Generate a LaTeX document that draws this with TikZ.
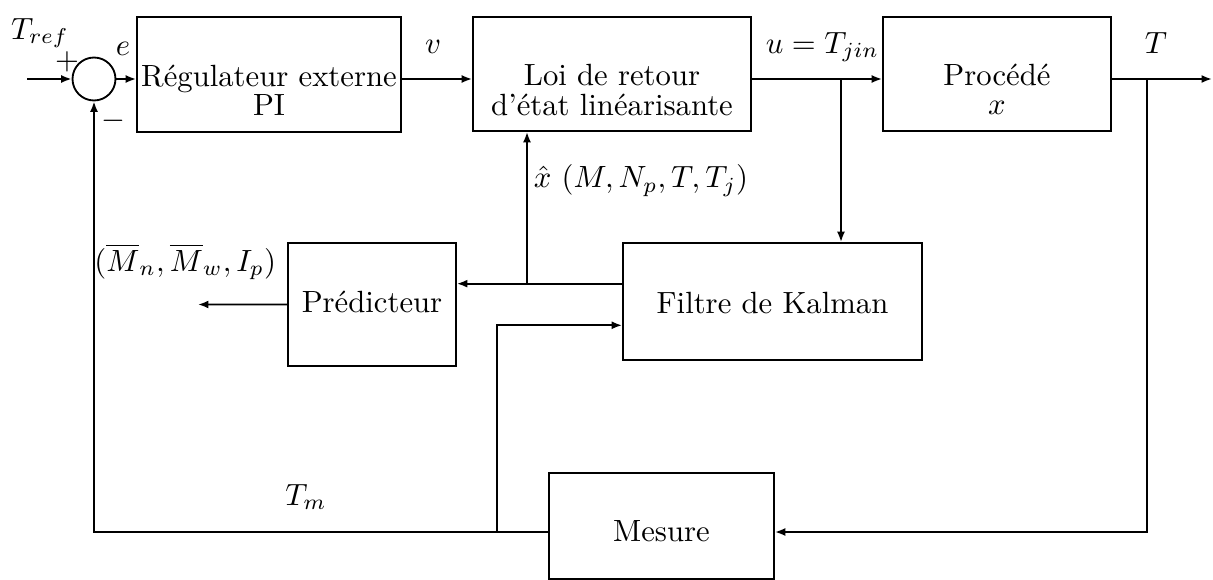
\documentclass[tikz,border=0pt]{standalone}
\usepackage{fontspec}
\usetikzlibrary{arrows.meta,fit,calc}
\begin{document}
\begin{tikzpicture}[x=0.3257pt,y=-0.3257pt,
  line width=0.6pt,
  arr/.style={-{Latex[length=3.4pt,width=2.6pt]}},
  blk/.style={draw,rectangle,inner sep=0pt},
  txt/.style={inner sep=0pt,font=\fontsize{10}{9.5}\selectfont,align=center},
  lbl/.style={inner sep=0pt},
  sumnode/.style={draw,circle,minimum size=14pt,inner sep=0pt}]
\useasboundingbox (0,0) rectangle (1213,580);

% blocks
\node[sumnode] (s) at (94,79) {};
\node[blk,fit={(137,17) (401,132)}] (b1) {};
\node[blk,fit={(473,17) (751,131)}] (b2) {};
\node[blk,fit={(883,17) (1111,131)}] (b3) {};
\node[blk,fit={(623,243) (922,360)}] (kf) {};
\node[blk,fit={(288,243) (456,366)}] (pr) {};
\node[blk,fit={(549,473) (774,579)}] (me) {};

% block texts
\node[txt] (t1) at (269,90) {Régulateur externe\\PI};
\node[txt] (t2) at (612,90) {Loi de retour\\d’état linéarisante};
\node[txt] (t3) at (997,89) {Procédé\\$x$};
\node[txt,anchor=base] (t4) at (772.5,313) {Filtre de Kalman};
\node[txt,anchor=base] (t5) at (372,312) {Prédicteur};
\node[txt,anchor=base] (t6) at (661.5,541) {Mesure};

% labels
\node[lbl,anchor=base] (lTref) at (40,39) {$T_{ref}$};
\node[lbl] (lplus) at (67,62) {$+$};
\node[lbl] (lminus) at (113,121) {$-$};
\node[lbl,anchor=base] (le) at (123,55) {$e$};
\node[lbl,anchor=base] (lv) at (433,53) {$v$};
\node[lbl,anchor=base east] (lu) at (880,53) {$u=T_{jin}$};
\node[lbl,anchor=base] (lT) at (1156,53) {$T$};
\node[lbl,anchor=base west] (lxh) at (533,188) {$\hat{x}\ (M,N_p,T,T_j)$};
\node[lbl,anchor=base east] (lMn) at (277,271) {$(\overline{M}_n,\overline{M}_w,I_p)$};
\node[lbl,anchor=base] (lTm) at (306,505) {$T_m$};

% coordinates
\coordinate (in) at (27,79);
\coordinate (out) at (1212,79);
\coordinate (ju) at (841,79);
\coordinate (jT) at (1147,79);
\coordinate (jx) at (527,284);
\coordinate (jm) at (497,532);
\coordinate (pout) at (198,304.5);
\coordinate (kout) at ($(kf.north west)!0.35!(kf.south west)$);
\coordinate (kin) at ($(kf.north west)!0.70!(kf.south west)$);

% connectors
\draw[arr] (in) -- (s.west);
\draw[arr] (s.east) -- (s.east -| b1.west);
\draw[arr] (b1.east |- s) -- (b2.west |- s);
\draw[arr] (b2.east |- s) -- (b3.west |- s);
\draw[arr] (b3.east |- s) -- (out);
\draw[arr] (ju) -- (ju |- kf.north);
\draw[arr] (jT) |- (me.east |- jm);
\draw[arr] (me.west |- jm) -| (s.south);
\draw[arr] (jm) |- (kin);
\draw[arr] (kout) -- (kout -| pr.east);
\draw[arr] (jx) -- (jx |- b2.south);
\draw[arr] (pr.west) -- (pout);
\end{tikzpicture}
\end{document}
